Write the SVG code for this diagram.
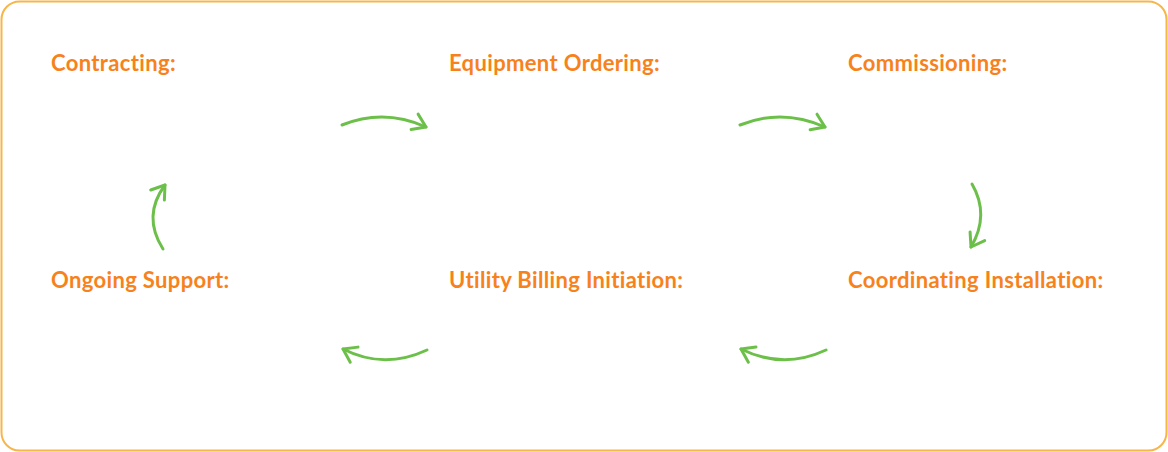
<svg xmlns="http://www.w3.org/2000/svg" width="1168" height="452" viewBox="0 0 1168 452">
<style>
.lbl{font-family:Lato,"Noto Sans",sans-serif;font-weight:700;font-size:22px;letter-spacing:0.35px;fill:#F7821B}
.con{fill:none;stroke:#6CC04A;stroke-width:3;stroke-linecap:round}
</style>
<defs>
<marker id="ah" markerUnits="userSpaceOnUse" markerWidth="30" markerHeight="30" viewBox="-20 -15 30 30" refX="0" refY="0" orient="auto">
<path d="M-12.5,-8.5 L0,0 L-12.5,8.5" fill="none" stroke="#6CC04A" stroke-width="3" stroke-linecap="round" stroke-linejoin="round"/>
</marker>
</defs>
<rect x="1.5" y="1.5" width="1165" height="449" rx="18" fill="#fff" stroke="#F7B54A" stroke-width="2"/>
<g id="connectors">
<path class="con" marker-end="url(#ah)" d="M342,125 Q384,108 426,127"/>
<path class="con" marker-end="url(#ah)" d="M740,125 Q782,108 825,127"/>
<path class="con" marker-end="url(#ah)" d="M972,184 Q990,215 971,247"/>
<path class="con" marker-end="url(#ah)" d="M826,350 Q783,370 741,349"/>
<path class="con" marker-end="url(#ah)" d="M427,350 Q384,370 343,349"/>
<path class="con" marker-end="url(#ah)" d="M163,249 Q142,216 165,185"/>
</g>
<g id="contracting"><text class="lbl" x="51" y="71">Contracting:</text></g>
<g id="equipment-ordering"><text class="lbl" x="449" y="71">Equipment Ordering:</text></g>
<g id="commissioning"><text class="lbl" x="848" y="71">Commissioning:</text></g>
<g id="coordinating-installation"><text class="lbl" x="848" y="288">Coordinating Installation:</text></g>
<g id="utility-billing-initiation"><text class="lbl" x="449" y="288">Utility Billing Initiation:</text></g>
<g id="ongoing-support"><text class="lbl" x="51" y="288">Ongoing Support:</text></g>
</svg>
